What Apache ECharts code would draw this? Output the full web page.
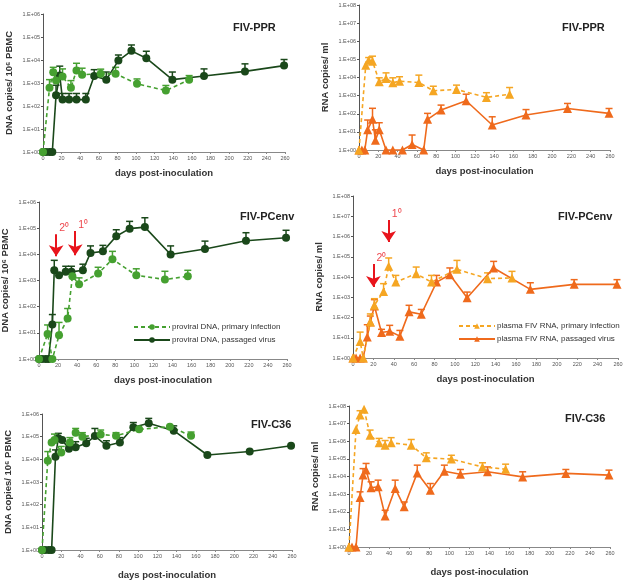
<!DOCTYPE html>
<html><head><meta charset="utf-8">
<script src="https://cdn.jsdelivr.net/npm/echarts@6/dist/echarts.min.js"></script>
<style>html,body{margin:0;padding:0;background:#fff}#c{width:627px;height:584px}</style>
</head><body><div id="c"></div>
<script>
// ---- tick labels ----
const dnaTicks = ['1.E+00','1.E+01','1.E+02','1.E+03','1.E+04','1.E+05','1.E+06'];
const rnaTicks = ['1.E+00','1.E+01','1.E+02','1.E+03','1.E+04','1.E+05','1.E+06','1.E+07','1.E+08'];
const xTicks = [0,20,40,60,80,100,120,140,160,180,200,220,240,260];

// ---- FIV-PPR DNA ----
const pprDnaPrimDays = [0,7,11,14,21,30,36,42,62,78,101,132,157];
const pprDnaPrimVals = [1,620,2900,1300,1900,620,3500,2300,2500,2500,920,470,1370];
const pprDnaPrimErr  = [null,1400,4800,2600,4100,1270,7200,4400,4000,4800,1500,780,2100];
const pprDnaPassDays = [0,3,7,10,14,18,21,28,36,46,55,68,81,95,111,139,173,217,259];
const pprDnaPassVals = [1,1,1,1,290,2100,190,190,190,190,2000,1400,9400,25000,12000,1400,2000,3200,5700];
const pprDnaPassErr  = [null,null,null,null,800,5400,350,350,350,350,3800,3000,16500,45000,24000,3000,4100,6800,10500];

// ---- FIV-PPR RNA ----
const pprRnaPrimDays = [0,7,10,14,21,28,35,42,62,77,101,132,156];
const pprRnaPrimVals = [1,48000,90000,80000,5800,8800,5100,6300,5300,1850,2200,800,1200];
const pprRnaPrimErr  = [null,null,126000,150000,9600,18000,9600,11000,13500,3300,3800,1450,2800];
const pprRnaPassDays = [0,3,6,9,14,17,21,28,35,45,55,67,71,85,111,138,173,216,259];
const pprRnaPassVals = [1,1,1,13,49,3.5,13,1,1,1,2,1,49,160,520,24,85,195,105];
const pprRnaPassErr  = [null,null,null,45,200,13,32,null,null,null,6.7,null,105,300,1200,68,170,370,195];

// ---- FIV-PCenv DNA ----
const pcDnaPrimDays = [0,9,14,21,30,35,42,62,77,102,132,156];
const pcDnaPrimVals = [1,9,1,8,35,1450,720,1850,6500,1580,1090,1450];
const pcDnaPrimErr  = [null,20,null,25,85,null,1260,3200,13000,2800,2250,2450];
const pcDnaPassDays = [0,3,7,10,14,16,21,28,34,46,54,67,81,95,111,138,174,217,259];
const pcDnaPassVals = [1,1,1,1,21,2460,1590,2140,2140,2460,11300,13000,49000,96000,110000,9800,16000,33000,43000];
const pcDnaPassErr  = [null,null,null,null,50,5900,null,3500,3500,4200,21000,22000,87000,182000,250000,21000,32000,67000,83000];

// ---- FIV-PCenv RNA ----
const pcRnaPrimDays = [0,7,10,17,21,30,35,42,62,77,102,132,156];
const pcRnaPrimVals = [1,6.6,1,60,400,1950,34000,5600,14500,5600,24000,8300,9000];
const pcRnaPrimErr  = [null,19,null,150,850,4700,87000,12000,31000,12000,66000,16000,19000];
const pcRnaPassDays = [0,3,7,10,14,17,21,28,36,46,55,67,82,95,112,138,174,217,259];
const pcRnaPassVals = [1,1,1,1,11,60,370,18,21,12,190,145,5600,13000,950,28000,2460,4340,4340];
const pcRnaPassErr  = [null,null,null,null,44,118,760,26,41,23,400,250,12000,28000,1800,59000,5200,7400,7400];

// ---- FIV-C36 DNA ----
const c36DnaPrimDays = [0,6,10,13,20,29,35,42,61,77,101,133,155];
const c36DnaPrimVals = [1,8700,55000,71000,20000,55000,150000,100000,126000,110000,210000,275000,110000];
const c36DnaPrimErr  = [null,22000,null,130000,37000,91000,230000,150000,196000,150000,null,null,160000];
const c36DnaPassDays = [0,3,7,10,14,17,21,28,35,46,55,67,81,95,111,137,172,216,259];
const c36DnaPassVals = [1,1,1,1,13000,85000,71000,29000,34000,51000,107000,40000,55000,260000,390000,183000,15500,22000,40000];
const c36DnaPassErr  = [null,null,null,null,26000,140000,null,null,60000,85000,230000,66000,91000,420000,640000,300000,null,null,null];

// ---- FIV-C36 RNA ----
const c36RnaPrimDays = [0,7,11,15,21,30,36,42,62,77,102,133,156];
const c36RnaPrimVals = [1,4.7e6,3.1e7,6.5e7,2.2e6,8.2e5,6e5,8.2e5,6e5,1.15e5,9.7e4,3.5e4,2.6e4];
const c36RnaPrimErr  = [null,null,5.4e7,null,4.3e6,1.45e6,1.1e6,1.6e6,1.26e6,2.2e5,1.6e5,6e4,5e4];
const c36RnaPassDays = [0,3,7,11,14,17,22,29,36,46,55,68,81,95,111,138,173,216,259];
const c36RnaPassVals = [1,1,1,640,12000,23000,2300,2600,58,2100,190,16000,1660,20000,13500,18500,9500,15000,12000];
const c36RnaPassErr  = [null,null,null,1350,28000,55000,5000,6200,122,6200,360,44000,4000,44000,25000,35000,18500,25000,23000];

// ---- names / titles / annotations ----
const panelTitles = ['FIV-PPR','FIV-PPR','FIV-PCenv','FIV-PCenv','FIV-C36','FIV-C36'];
const dnaLegend = ['proviral DNA, primary infection','proviral DNA, passaged virus'];
const rnaLegend = ['plasma FIV RNA, primary infection','plasma FIV RNA, passaged virus'];
const arrowLabels = ['2\u2070','1\u2070'];
const pcDnaArrowDays = [18,38]; const pcDnaArrowTop = [59000,78000]; const pcDnaArrowTip = [8500,9300];
const pcRnaArrowDays = [20,35]; const pcRnaArrowTop = [44000,6.5e6]; const pcRnaArrowTip = [3200,5.4e5];

const C = {lg:'#45a030', dg:'#1a481a', lo:'#f5a623', do:'#ef6a1c'};

const grids = [
  {left:43, top:14, width:242, height:138},
  {left:359, top:5, width:251, height:145},
  {left:39, top:202, width:248, height:157},
  {left:353, top:196, width:265, height:162},
  {left:42, top:414, width:250, height:136},
  {left:349, top:406, width:261, height:141}
];
grids.forEach(g => { g.containLabel = false; g.outerBoundsMode = 'none'; });

const isRna = [false,true,false,true,false,true];
const xAxes = grids.map((g,i) => ({
  type:'value', gridIndex:i, min:0, max:260, interval:20,
  name:'days post-inoculation', nameLocation:'middle', nameGap: i>=4 ? 20 : 16,
  nameTextStyle:{fontSize:9.5, fontWeight:'bold', color:'#333', fontFamily:'Liberation Sans'},
  axisLine:{lineStyle:{color:'#888', width:1}},
  axisTick:{show:true, length:2, lineStyle:{color:'#888'}},
  axisLabel:{fontSize:5.5, color:'#555', margin:3, formatter: v => String(xTicks[xTicks.indexOf(v)])},
  splitLine:{show:false}
}));
const yAxes = grids.map((g,i) => {
  const ticks = isRna[i] ? rnaTicks : dnaTicks;
  return {
    type:'log', gridIndex:i, logBase:10, min:1, max: Math.pow(10, ticks.length-1),
    splitNumber: ticks.length-1,
    name: isRna[i] ? 'RNA copies/ ml' : 'DNA copies/ 10\u2076 PBMC',
    nameLocation:'middle', nameGap: 29,
    nameTextStyle:{fontSize:9.5, fontWeight:'bold', color:'#333', fontFamily:'Liberation Sans'},
    axisLine:{show:true, lineStyle:{color:'#555', width:1}},
    axisTick:{show:true, length:2, lineStyle:{color:'#555'}},
    minorTick:{show:false},
    axisLabel:{fontSize:5.5, color:'#555', margin:3, formatter: v => ticks[Math.round(Math.log10(v))]},
    splitLine:{show:false}
  };
});

function lineSeries(name, days, vals, color, idx, dashed, rna) {
  return {
    type:'line', name, xAxisIndex:idx, yAxisIndex:idx,
    data: days.map((d,i) => [d, vals[i]]),
    symbol: rna ? 'triangle' : 'circle', symbolSize: rna ? 9 : 8,
    itemStyle:{color}, lineStyle:{color, width:1.6, type: dashed ? [4,3] : 'solid'},
    z:3, animation:false
  };
}
function errSeries(days, vals, errs, color, idx) {
  return {
    type:'custom', xAxisIndex:idx, yAxisIndex:idx, z:2, animation:false,
    encode:{x:0, y:1}, silent:true,
    data: days.map((d,i) => errs[i]==null ? null : [d, vals[i], errs[i]]).filter(Boolean),
    renderItem: (params, api) => {
      const p0 = api.coord([api.value(0), api.value(1)]);
      const p1 = api.coord([api.value(0), api.value(2)]);
      return {type:'group', children:[
        {type:'line', shape:{x1:p0[0], y1:p0[1], x2:p1[0], y2:p1[1]}, style:{stroke:color, lineWidth:1.5}},
        {type:'line', shape:{x1:p1[0]-3.5, y1:p1[1], x2:p1[0]+3.5, y2:p1[1]}, style:{stroke:color, lineWidth:1.5}}
      ]};
    }
  };
}
function arrows(days, tops, tips, idx) {
  return [{
    type:'line', xAxisIndex:idx, yAxisIndex:idx, data:[], silent:true, z:5,
    markLine:{
      silent:true, symbol:['none','arrow'], symbolSize:11, animation:false, precision:6,
      lineStyle:{color:'#e8141c', width:2, type:'solid'}, label:{show:false},
      data: days.map((d,i) => [{coord:[d, tops[i]]},{coord:[d, tips[i]]}])
    }
  },{
    type:'scatter', xAxisIndex:idx, yAxisIndex:idx, silent:true, z:5,
    symbolSize:0, data: days.map((d,i) => [d, tops[i]]),
    label:{show:true, color:'#e8141c', fontSize:10.5, fontFamily:'Liberation Sans', position:'right', distance:3, offset:[0,-6],
      formatter: p => arrowLabels[p.dataIndex]}
  }];
}

const panelData = [
  [pprDnaPrimDays,pprDnaPrimVals,pprDnaPrimErr,pprDnaPassDays,pprDnaPassVals,pprDnaPassErr],
  [pprRnaPrimDays,pprRnaPrimVals,pprRnaPrimErr,pprRnaPassDays,pprRnaPassVals,pprRnaPassErr],
  [pcDnaPrimDays,pcDnaPrimVals,pcDnaPrimErr,pcDnaPassDays,pcDnaPassVals,pcDnaPassErr],
  [pcRnaPrimDays,pcRnaPrimVals,pcRnaPrimErr,pcRnaPassDays,pcRnaPassVals,pcRnaPassErr],
  [c36DnaPrimDays,c36DnaPrimVals,c36DnaPrimErr,c36DnaPassDays,c36DnaPassVals,c36DnaPassErr],
  [c36RnaPrimDays,c36RnaPrimVals,c36RnaPrimErr,c36RnaPassDays,c36RnaPassVals,c36RnaPassErr]
];
const series = [];
panelData.forEach((p,i) => {
  const rna = isRna[i];
  const cPrim = rna ? C.lo : C.lg, cPass = rna ? C.do : C.dg;
  const names = rna ? rnaLegend : dnaLegend;
  const suffix = (i===2||i===3) ? '' : ' #' + i;
  series.push(errSeries(p[3],p[4],p[5],cPass,i));
  series.push(errSeries(p[0],p[1],p[2],cPrim,i));
  series.push(lineSeries(names[1]+suffix,p[3],p[4],cPass,i,false,rna));
  series.push(lineSeries(names[0]+suffix,p[0],p[1],cPrim,i,true,rna));
});
series.push(...arrows(pcDnaArrowDays,pcDnaArrowTop,pcDnaArrowTip,2));
series.push(...arrows(pcRnaArrowDays,pcRnaArrowTop,pcRnaArrowTip,3));

const titlePos = [[228,17],[557,17],[235,206],[553,206],[246,414],[560,408]];
const titles = panelTitles.map((t,i) => ({
  text:t, left:titlePos[i][0], top:titlePos[i][1],
  textStyle:{fontSize:11, fontWeight:'bold', color:'#222', fontFamily:'Liberation Sans'}
}));

const legendCommon = {orient:'vertical', itemWidth:36, itemHeight:7, itemGap:5, selectedMode:false,
  textStyle:{fontSize:8, color:'#333', fontFamily:'Liberation Sans', padding:[0,0,0,-3]}};
const chart = echarts.init(document.getElementById('c'), null, {renderer:'canvas'});
chart.setOption({
  animation:false, backgroundColor:'#fff',
  title: titles,
  grid: grids, xAxis: xAxes, yAxis: yAxes,
  legend:[
    Object.assign({data: dnaLegend.slice(), left:128, top:318}, legendCommon),
    Object.assign({data: rnaLegend.slice(), left:453, top:317}, legendCommon)
  ],
  series
});
</script></body></html>
